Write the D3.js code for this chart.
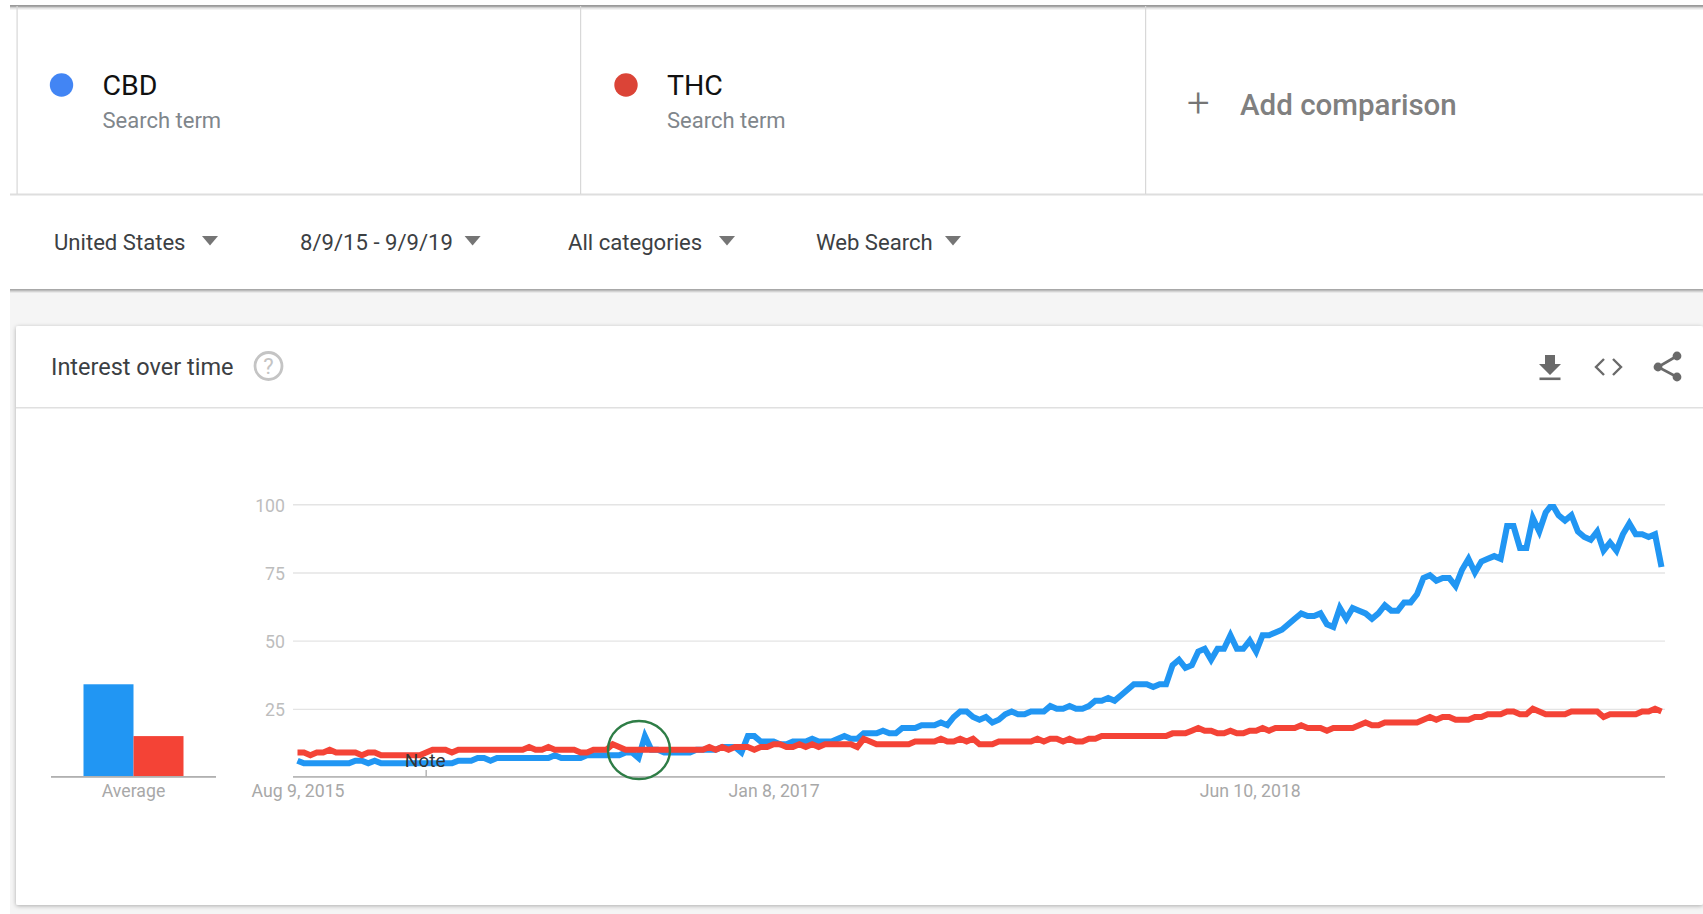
<!DOCTYPE html>
<html><head><meta charset="utf-8">
<script src="https://d3js.org/d3.v7.min.js"></script>
<style>html,body{margin:0;padding:0;background:#fff;overflow:hidden}svg{display:block}text{font-family:Roboto,sans-serif}</style>
</head><body><div id="chart"></div>
<script>
const cbdValues=[6,5,5,5,5,5,5,5,5,6,
6,5,6,5,5,5,5,5,5,5,
5,5,5,5,5,6,6,6,7,7,
6,7,7,7,7,7,7,7,7,7,
8,7,7,7,7,8,8,8,8,8,
8,9,9,7,15,10,10,9,9,9,
9,9,10,10,10,10,11,11,11,9,
15,15,13,13,13,12,12,13,13,13,
14,13,13,13,14,15,14,14,16,16,
16,17,16,16,18,18,18,19,19,19,
20,19,22,24,24,22,21,22,20,21,
23,24,23,23,24,24,24,26,25,25,
26,25,25,26,28,28,29,28,30,32,
34,34,34,33,34,34,41,43,40,41,
46,47,43,47,47,52,47,47,50,46,
52,52,53,54,56,58,60,59,59,60,
56,55,62,58,62,61,60,58,60,63,
61,61,64,64,67,73,74,72,73,73,
70,76,80,75,79,80,81,80,92,92,
84,84,95,90,97,100,96,94,96,90,
88,87,90,83,86,83,89,93,89,89,
88,89,77];
const thcValues=[9,9,8,9,9,10,9,9,9,9,
8,9,9,8,8,8,8,8,8,8,
9,10,10,10,9,10,10,10,10,10,
10,10,10,10,10,10,11,10,10,11,
10,10,10,10,9,9,10,10,10,12,
11,10,10,10,10,10,10,10,10,10,
10,10,10,10,11,10,11,10,11,11,
11,10,11,11,12,12,11,11,12,11,
12,11,12,12,12,12,12,11,14,13,
12,12,12,12,12,12,13,13,13,13,
14,13,13,14,13,14,12,12,12,13,
13,13,13,13,13,14,13,14,14,13,
14,13,13,14,14,15,15,15,15,15,
15,15,15,15,15,15,16,16,16,17,
18,17,17,16,16,17,16,16,17,17,
18,17,18,18,18,18,19,18,18,18,
17,18,18,18,18,19,20,19,19,20,
20,20,20,20,20,21,22,21,22,22,
21,21,21,22,22,23,23,23,24,24,
23,23,25,24,23,23,23,23,24,24,
24,24,24,22,23,23,23,23,23,24,
24,25,24];
const averageValues=[34,15];
const averageNames=["CBD","THC"];
const yTicks=[25,50,75,100];
const xTickIndex=[0,74,148];
const xTickLabels=["Aug 9, 2015","Jan 8, 2017","Jun 10, 2018"];
const noteIndex=[20];
const filters=["United States","8/9/15 - 9/9/19","All categories","Web Search"];
const terms=["CBD","THC"];
const lineColors=["#2196f3","#f44336"];
const dotColors=["#4285f4","#db4437"];

const W=1703,H=914;
const svg=d3.select("#chart").append("svg").attr("width",W).attr("height",H);
const defs=svg.append("defs");
const f=defs.append("filter").attr("id","s1").attr("x","-5%").attr("y","-20%").attr("width","110%").attr("height","140%");
f.append("feDropShadow").attr("dx",0).attr("dy",1).attr("stdDeviation",2).attr("flood-color","#000").attr("flood-opacity",0.3);
defs.append("clipPath").attr("id","plotClip").append("rect").attr("x",280).attr("y",504).attr("width",1400).attr("height",273);

// page chrome
svg.append("rect").attr("x",0).attr("y",0).attr("width",W).attr("height",H).attr("fill","#fff");
svg.append("rect").attr("x",10).attr("y",290).attr("width",W-10).attr("height",H-290).attr("fill","#f5f5f5");
[[289,"#a8a8a8"],[290,"#bcbcbc"],[291,"#d4d4d4"],[292,"#e8e8e8"]].forEach(r=>
  svg.append("rect").attr("x",10).attr("y",r[0]).attr("width",W-10).attr("height",1).attr("fill",r[1]));
[[5,"#9a9a9a"],[6,"#a8a8a8"],[7,"#cfcfcf"],[8,"#e6e6e6"],[9,"#f3f3f3"]].forEach(r=>
  svg.append("rect").attr("x",10).attr("y",r[0]).attr("width",W-10).attr("height",1).attr("fill",r[1]));
svg.append("rect").attr("x",10).attr("y",193.5).attr("width",W-10).attr("height",2).attr("fill","#dedede");
[16.5,580,1145].forEach(x=>svg.append("rect").attr("x",x).attr("y",6).attr("width",1.2).attr("height",188).attr("fill","#d8d8d8"));

// search terms
const termX=[61.5,626];
terms.forEach((t,i)=>{
  svg.append("circle").attr("cx",termX[i]).attr("cy",85).attr("r",11.7).attr("fill",dotColors[i]);
  svg.append("text").attr("x",termX[i]+41).attr("y",95).attr("font-size",28.5).attr("fill","#111").text(t);
  svg.append("text").attr("x",termX[i]+41).attr("y",128).attr("font-size",22).attr("fill","#80868b").text("Search term");
});
svg.append("text").attr("x",1187).attr("y",117).attr("font-size",40).attr("font-weight",300).attr("fill","#757575").text("+");
svg.append("text").attr("x",1240).attr("y",115).attr("font-size",29.5).attr("fill","#808080").attr("font-weight",500).text("Add comparison");

// filters
const filterX=[54,300,568,816], triX=[210,472.6,727,953];
filters.forEach((t,i)=>{
  svg.append("text").attr("x",filterX[i]).attr("y",250).attr("font-size",22.1).attr("fill","#3c4043").text(t);
  svg.append("path").attr("d",`M${triX[i]-8},236 h16 l-8,9.5 z`).attr("fill","#757575");
});

// card
svg.append("rect").attr("x",16).attr("y",326).attr("width",W-16).attr("height",579).attr("fill","#fff").attr("rx",2).attr("filter","url(#s1)");
svg.append("rect").attr("x",16).attr("y",407).attr("width",W-16).attr("height",1.5).attr("fill","#e0e0e0");
svg.append("text").attr("x",51).attr("y",375).attr("font-size",23.5).attr("fill","#3c4043").text("Interest over time");
svg.append("circle").attr("cx",268.5).attr("cy",366).attr("r",13.5).attr("fill","none").attr("stroke","#c4c4c4").attr("stroke-width",2.8);
svg.append("text").attr("x",268.5).attr("y",374).attr("text-anchor","middle").attr("font-size",22).attr("fill","#c4c4c4").text("?");

// icons
const ic=svg.append("g").attr("fill","#6a6a6a");
ic.append("path").attr("d","M1545,355 h10 v9 h6 l-11,11 l-11,-11 h6 z");
ic.append("rect").attr("x",1539.5).attr("y",377.5).attr("width",21).attr("height",2.6);
svg.append("path").attr("d","M1604,359 l-8,8 l8,8 M1613,359 l8,8 l-8,8").attr("fill","none").attr("stroke","#6a6a6a").attr("stroke-width",2.4);
svg.append("path").attr("d","M1677,356 L1658,367 L1677,377").attr("fill","none").attr("stroke","#6a6a6a").attr("stroke-width",2.6);
[[1677,356],[1658,367],[1677,377]].forEach(p=>ic.append("circle").attr("cx",p[0]).attr("cy",p[1]).attr("r",4.4));

// scales
const x=d3.scaleLinear().domain([0,212]).range([297.5,1661.5]);
const y=d3.scaleLinear().domain([0,100]).range([777,504.3]);

// y axis + gridlines
const gy=svg.append("g").attr("transform","translate(293,0)")
  .call(d3.axisLeft(y).tickValues(yTicks).tickSize(0).tickPadding(8));
gy.select(".domain").remove();
gy.selectAll("text").attr("font-size",17.7).attr("fill","#bdbdbd").attr("font-family","Roboto,sans-serif").attr("dy","0.4em");
gy.selectAll(".tick").append("line").attr("x1",0).attr("x2",1372).attr("y1",0).attr("y2",0).attr("stroke","#e4e4e4").attr("stroke-width",1.4);

// baseline and x axis
const gx=svg.append("g").attr("transform","translate(0,777)")
  .call(d3.axisBottom(x).tickValues(xTickIndex).tickFormat((d,i)=>xTickLabels[i]).tickSize(0).tickPadding(7));
gx.select(".domain").remove();
gx.selectAll("text").attr("font-size",17.7).attr("fill","#a8a8a8").attr("font-family","Roboto,sans-serif");
svg.append("rect").attr("x",293).attr("y",776).attr("width",1372).attr("height",1.8).attr("fill","#b8b8b8");

// lines
const line=d3.line().x((d,i)=>x(i)).y(d=>y(d)).curve(d3.curveLinear);
const lines=svg.append("g").attr("clip-path","url(#plotClip)");
[cbdValues,thcValues].forEach((s,i)=>{
  lines.append("path").datum(s).attr("d",line).attr("fill","none").attr("stroke",lineColors[i]).attr("stroke-width",6).attr("stroke-linejoin","miter").attr("stroke-miterlimit",4);
});

// note marker
noteIndex.forEach(n=>{
  svg.append("line").attr("x1",x(n)).attr("x2",x(n)).attr("y1",770).attr("y2",777).attr("stroke","#b0b0b0").attr("stroke-width",1.4);
  svg.append("text").attr("x",x(n)-1).attr("y",767).attr("text-anchor","middle").attr("font-size",19).attr("fill","#333").text("Note");
});

// green annotation
svg.append("ellipse").attr("cx",639).attr("cy",750).attr("rx",31).attr("ry",29).attr("fill","none").attr("stroke","#2e7d46").attr("stroke-width",2.4);

// average bars
const bx=d3.scaleBand().domain(averageNames).range([83.5,183.5]);
svg.selectAll(".avg").data(averageValues).join("rect").attr("class","avg")
  .attr("x",(d,i)=>bx(averageNames[i])).attr("width",bx.bandwidth())
  .attr("y",d=>y(d)).attr("height",d=>y(0)-y(d)).attr("fill",(d,i)=>lineColors[i]);
svg.append("rect").attr("x",51).attr("y",776).attr("width",165).attr("height",1.8).attr("fill","#b0b0b0");
svg.append("text").attr("x",133.5).attr("y",797).attr("text-anchor","middle").attr("font-size",17.7).attr("fill","#a8a8a8").text("Average");
</script></body></html>
